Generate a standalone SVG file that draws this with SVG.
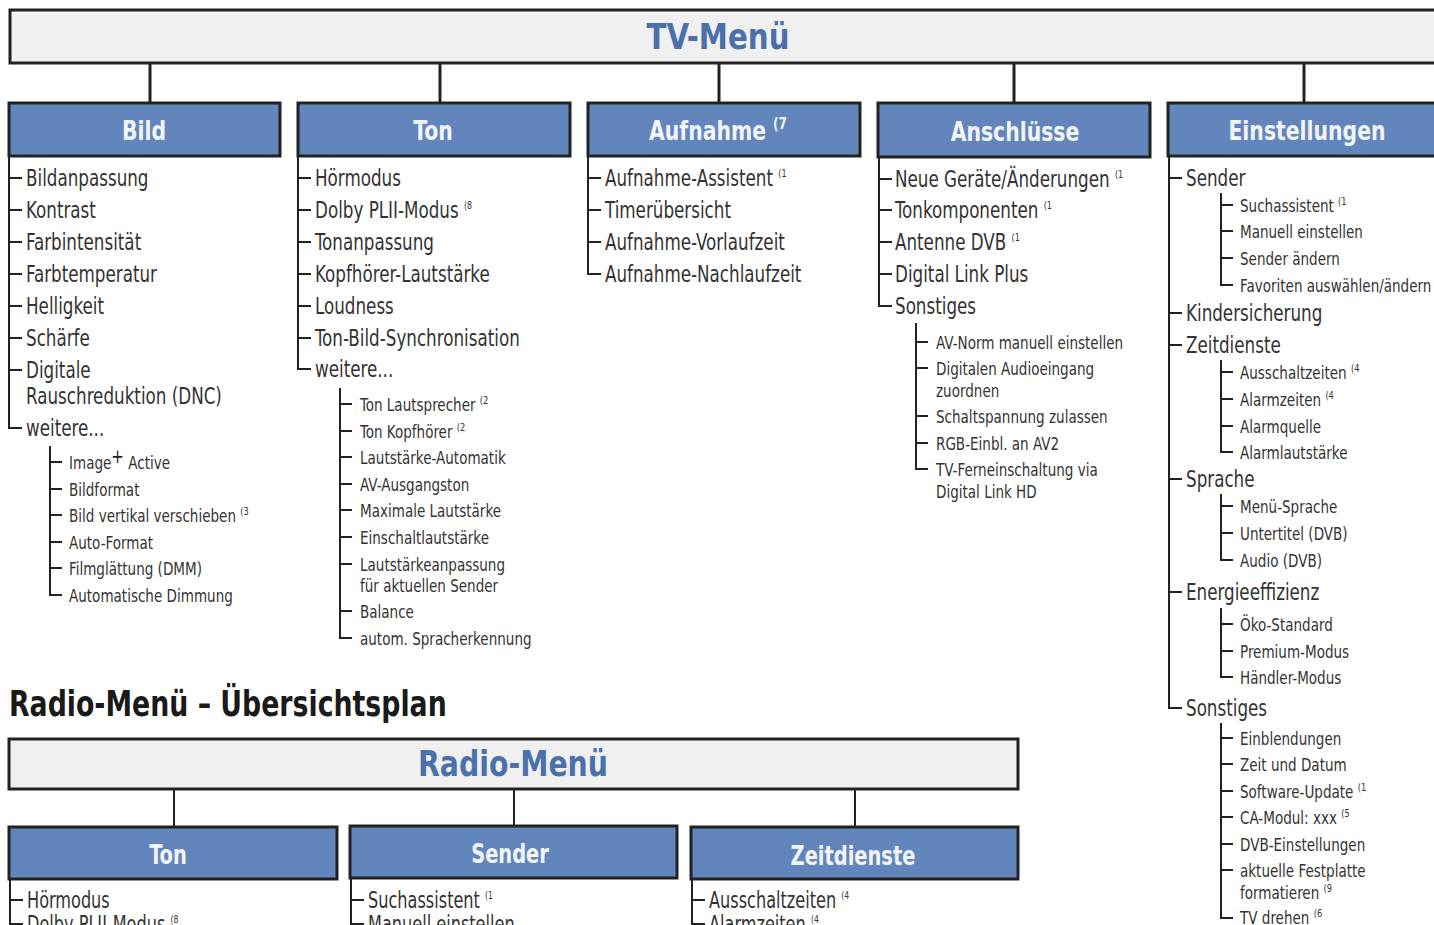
<svg xmlns="http://www.w3.org/2000/svg" width="1434" height="925" viewBox="0 0 1434 925">
<style>
text{font-family:"DejaVu Sans Condensed","Liberation Sans",sans-serif}
.l1{font-size:23px;fill:#333}
.l2{font-size:18px;fill:#333}
.sup{font-size:11px}
.cat{font-size:27px;font-weight:bold;fill:#f2f4f8;text-anchor:middle}
.hdr{font-size:35px;font-weight:bold;fill:#4b70aa;text-anchor:middle}
.title{font-size:35px;font-weight:bold;fill:#1a1a1a}
.hbox{fill:#f0f0f0;stroke:#222;stroke-width:3}
.cbox{fill:#6286bc;stroke:#222;stroke-width:3}
.tree{stroke:#222;stroke-width:2;fill:none}
.conn{stroke:#222;stroke-width:3;fill:none}
</style>
<rect width="1434" height="925" fill="#fff"/>

<g id="connectors">
<path class="conn" d="M150 63V103M440 63V103M719 63V103M1014 63V103M1304 63V103"/>
<path class="conn" style="stroke-width:2" d="M174 789V827M514 789V827M855 789V826"/>
<path class="tree" d="M9 156V428H22M9 178H22M9 210H22M9 242H22M9 274H22M9 306H22M9 338H22M9 370H22"/>
<path class="tree" d="M50 446V595H62M50 462H62M50 489H62M50 515H62M50 542H62M50 568H62"/>
<path class="tree" d="M298 156V369H311M298 178H311M298 210H311M298 242H311M298 274H311M298 306H311M298 338H311"/>
<path class="tree" d="M340 388V638H352M340 404H352M340 431H352M340 457H352M340 484H352M340 510H352M340 537H352M340 564H352M340 611H352"/>
<path class="tree" d="M588 156V274H601M588 178H601M588 210H601M588 242H601"/>
<path class="tree" d="M879 157V306H892M879 179H892M879 210H892M879 242H892M879 274H892"/>
<path class="tree" d="M916 323V469H928M916 342H928M916 368H928M916 416H928M916 443H928"/>
<path class="tree" d="M1169 156V708H1182M1169 178H1182M1169 313H1182M1169 345H1182M1169 479H1182M1169 592H1182"/>
<path class="tree" d="M1221 193V285H1233M1221 205H1233M1221 231H1233M1221 258H1233"/>
<path class="tree" d="M1221 360V452H1233M1221 372H1233M1221 399H1233M1221 426H1233"/>
<path class="tree" d="M1221 494V560H1233M1221 506H1233M1221 533H1233"/>
<path class="tree" d="M1221 608V677H1233M1221 624H1233M1221 651H1233"/>
<path class="tree" d="M1221 723V918H1233M1221 738H1233M1221 764H1233M1221 791H1233M1221 817H1233M1221 844H1233M1221 870H1233"/>
<path class="tree" d="M10 879V925M10 900H23M10 924H23"/>
<path class="tree" d="M351 878V925M351 900H364M351 924H364"/>
<path class="tree" d="M692 879V925M692 900H705M692 924H705"/>
</g>

<g id="tv-menu">
<rect class="hbox" x="10" y="10" width="1440" height="53"/>
<g transform="translate(718 0) scale(0.93 1)"><text class="hdr" x="0" y="49">TV-Menü</text></g>
</g>

<g id="bild">
<rect class="cbox" x="9" y="103" width="271" height="53"/>
<g transform="translate(144 0) scale(0.84 1)"><text class="cat" x="0" y="140">Bild</text></g>
<g transform="translate(26 0) scale(0.81 1)">
<text class="l1" y="186">Bildanpassung</text>
<text class="l1" y="218">Kontrast</text>
<text class="l1" y="250">Farbintensität</text>
<text class="l1" y="282">Farbtemperatur</text>
<text class="l1" y="314">Helligkeit</text>
<text class="l1" y="346">Schärfe</text>
<text class="l1" y="378">Digitale</text>
<text class="l1" y="404">Rauschreduktion (DNC)</text>
<text class="l1" y="436">weitere...</text>
</g>
<g transform="translate(69 0) scale(0.835 1)">
<text class="l2" y="469">Image<tspan font-size="20" dy="-6" fill="#222">+</tspan><tspan dy="6"> Active</tspan></text>
<text class="l2" y="496">Bildformat</text>
<text class="l2" y="522">Bild vertikal verschieben <tspan class="sup" dy="-7">(3</tspan></text>
<text class="l2" y="549">Auto-Format</text>
<text class="l2" y="575">Filmglättung (DMM)</text>
<text class="l2" y="602">Automatische Dimmung</text>
</g>
</g>

<g id="ton">
<rect class="cbox" x="298" y="103" width="272" height="53"/>
<g transform="translate(433 0) scale(0.84 1)"><text class="cat" x="0" y="140">Ton</text></g>
<g transform="translate(315 0) scale(0.81 1)">
<text class="l1" y="186">Hörmodus</text>
<text class="l1" y="218">Dolby PLII-Modus <tspan class="sup" dy="-9">(8</tspan></text>
<text class="l1" y="250">Tonanpassung</text>
<text class="l1" y="282">Kopfhörer-Lautstärke</text>
<text class="l1" y="314">Loudness</text>
<text class="l1" y="346">Ton-Bild-Synchronisation</text>
<text class="l1" y="377">weitere...</text>
</g>
<g transform="translate(360 0) scale(0.835 1)">
<text class="l2" y="411">Ton Lautsprecher <tspan class="sup" dy="-7">(2</tspan></text>
<text class="l2" y="438">Ton Kopfhörer <tspan class="sup" dy="-7">(2</tspan></text>
<text class="l2" y="464">Lautstärke-Automatik</text>
<text class="l2" y="491">AV-Ausgangston</text>
<text class="l2" y="517">Maximale Lautstärke</text>
<text class="l2" y="544">Einschaltlautstärke</text>
<text class="l2" y="571">Lautstärkeanpassung</text>
<text class="l2" y="592">für aktuellen Sender</text>
<text class="l2" y="618">Balance</text>
<text class="l2" y="645">autom. Spracherkennung</text>
</g>
</g>

<g id="aufnahme">
<rect class="cbox" x="588" y="103" width="272" height="53"/>
<g transform="translate(718 0) scale(0.84 1)"><text class="cat" x="0" y="140">Aufnahme <tspan font-size="16" dy="-11">(7</tspan></text></g>
<g transform="translate(605 0) scale(0.81 1)">
<text class="l1" y="186">Aufnahme-Assistent <tspan class="sup" dy="-9">(1</tspan></text>
<text class="l1" y="218">Timerübersicht</text>
<text class="l1" y="250">Aufnahme-Vorlaufzeit</text>
<text class="l1" y="282">Aufnahme-Nachlaufzeit</text>
</g>
</g>

<g id="anschluesse">
<rect class="cbox" x="878" y="103" width="272" height="54"/>
<g transform="translate(1015 0) scale(0.84 1)"><text class="cat" x="0" y="141">Anschlüsse</text></g>
<g transform="translate(895 0) scale(0.81 1)">
<text class="l1" y="187">Neue Geräte/Änderungen <tspan class="sup" dy="-9">(1</tspan></text>
<text class="l1" y="218">Tonkomponenten <tspan class="sup" dy="-9">(1</tspan></text>
<text class="l1" y="250">Antenne DVB <tspan class="sup" dy="-9">(1</tspan></text>
<text class="l1" y="282">Digital Link Plus</text>
<text class="l1" y="314">Sonstiges</text>
</g>
<g transform="translate(936 0) scale(0.835 1)">
<text class="l2" y="349">AV-Norm manuell einstellen</text>
<text class="l2" y="375">Digitalen Audioeingang</text>
<text class="l2" y="397">zuordnen</text>
<text class="l2" y="423">Schaltspannung zulassen</text>
<text class="l2" y="450">RGB-Einbl. an AV2</text>
<text class="l2" y="476">TV-Ferneinschaltung via</text>
<text class="l2" y="498">Digital Link HD</text>
</g>
</g>

<g id="einstellungen">
<rect class="cbox" x="1168" y="103" width="290" height="53"/>
<g transform="translate(1307 0) scale(0.84 1)"><text class="cat" x="0" y="140">Einstellungen</text></g>
<g transform="translate(1186 0) scale(0.81 1)">
<text class="l1" y="186">Sender</text>
<text class="l1" y="321">Kindersicherung</text>
<text class="l1" y="353">Zeitdienste</text>
<text class="l1" y="487">Sprache</text>
<text class="l1" y="600">Energieeffizienz</text>
<text class="l1" y="716">Sonstiges</text>
</g>
<g transform="translate(1240 0) scale(0.835 1)">
<text class="l2" y="212">Suchassistent <tspan class="sup" dy="-7">(1</tspan></text>
<text class="l2" y="238">Manuell einstellen</text>
<text class="l2" y="265">Sender ändern</text>
<text class="l2" y="292">Favoriten auswählen/ändern</text>
<text class="l2" y="379">Ausschaltzeiten <tspan class="sup" dy="-7">(4</tspan></text>
<text class="l2" y="406">Alarmzeiten <tspan class="sup" dy="-7">(4</tspan></text>
<text class="l2" y="433">Alarmquelle</text>
<text class="l2" y="459">Alarmlautstärke</text>
<text class="l2" y="513">Menü-Sprache</text>
<text class="l2" y="540">Untertitel (DVB)</text>
<text class="l2" y="567">Audio (DVB)</text>
<text class="l2" y="631">Öko-Standard</text>
<text class="l2" y="658">Premium-Modus</text>
<text class="l2" y="684">Händler-Modus</text>
<text class="l2" y="745">Einblendungen</text>
<text class="l2" y="771">Zeit und Datum</text>
<text class="l2" y="798">Software-Update <tspan class="sup" dy="-7">(1</tspan></text>
<text class="l2" y="824">CA-Modul: xxx <tspan class="sup" dy="-7">(5</tspan></text>
<text class="l2" y="851">DVB-Einstellungen</text>
<text class="l2" y="877">aktuelle Festplatte</text>
<text class="l2" y="899">formatieren <tspan class="sup" dy="-7">(9</tspan></text>
<text class="l2" y="924">TV drehen <tspan class="sup" dy="-7">(6</tspan></text>
</g>
</g>

<g id="radio-title">
<g transform="translate(9 0) scale(0.85 1)"><text class="title" x="0" y="716">Radio-Menü – Übersichtsplan</text></g>
</g>

<g id="radio-menu">
<rect class="hbox" x="9" y="739" width="1009" height="50"/>
<g transform="translate(513 0) scale(0.9 1)"><text class="hdr" x="0" y="776">Radio-Menü</text></g>
</g>

<g id="radio-ton">
<rect class="cbox" x="9" y="827" width="328" height="52"/>
<g transform="translate(168 0) scale(0.8 1)"><text class="cat" x="0" y="864">Ton</text></g>
<g transform="translate(27 0) scale(0.78 1)">
<text class="l1" y="908">Hörmodus</text>
<text class="l1" y="932">Dolby PLII-Modus <tspan class="sup" dy="-9">(8</tspan></text>
</g>
</g>

<g id="radio-sender">
<rect class="cbox" x="350" y="826" width="327" height="52"/>
<g transform="translate(510 0) scale(0.8 1)"><text class="cat" x="0" y="863">Sender</text></g>
<g transform="translate(368 0) scale(0.78 1)">
<text class="l1" y="908">Suchassistent <tspan class="sup" dy="-9">(1</tspan></text>
<text class="l1" y="932">Manuell einstellen</text>
</g>
</g>

<g id="radio-zeitdienste">
<rect class="cbox" x="691" y="827" width="327" height="52"/>
<g transform="translate(853 0) scale(0.8 1)"><text class="cat" x="0" y="865">Zeitdienste</text></g>
<g transform="translate(709 0) scale(0.78 1)">
<text class="l1" y="908">Ausschaltzeiten <tspan class="sup" dy="-9">(4</tspan></text>
<text class="l1" y="932">Alarmzeiten <tspan class="sup" dy="-9">(4</tspan></text>
</g>
</g>
</svg>
